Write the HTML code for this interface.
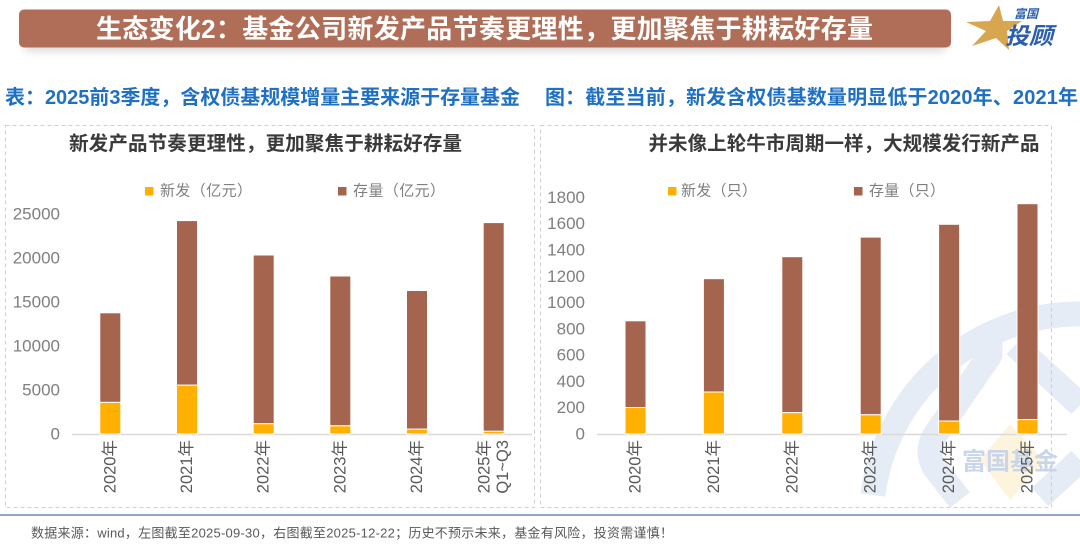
<!DOCTYPE html>
<html><head><meta charset="utf-8"><style>
html,body{margin:0;padding:0;background:#fff;width:1080px;height:558px;overflow:hidden;}
svg{display:block;}
text{font-family:"Liberation Sans","Noto Sans CJK SC",sans-serif;}
</style></head><body>
<svg width="1080" height="558" viewBox="0 0 1080 558" xmlns="http://www.w3.org/2000/svg">
<defs>
<filter id="sh" x="-5%" y="-50%" width="110%" height="200%"><feGaussianBlur stdDeviation="4"/></filter>
</defs>
<!-- Banner -->
<rect x="24" y="18" width="922" height="34" rx="6" fill="#c8c8c8" opacity="0.6" filter="url(#sh)"/>
<rect x="19" y="9.5" width="932" height="38" rx="5" fill="#b06e58"/>
<text x="96" y="29" dominant-baseline="central" font-size="26" font-weight="bold" fill="#fff" textLength="777" lengthAdjust="spacing">生态变化2：基金公司新发产品节奏更理性，更加聚焦于耕耘好存量</text>

<!-- Logo -->
<polygon points="999,5 1003,21 1022,21 1007,31 1009,50 996,38 972,46 986,31 966,22 990,21" fill="#d7a64f"/>
<text x="1026" y="14" dominant-baseline="central" text-anchor="middle" font-size="12" font-weight="bold" fill="#2b5fad" font-style="italic">富国</text>
<text x="1005" y="36" dominant-baseline="central" font-size="23" font-weight="bold" fill="#2b5fad" font-style="italic" textLength="48" lengthAdjust="spacingAndGlyphs">投顾</text>

<!-- Subtitles -->
<text x="5" y="98" dominant-baseline="central" font-size="20" font-weight="bold" fill="#1f70c2" textLength="515" lengthAdjust="spacing">表：2025前3季度，含权债基规模增量主要来源于存量基金</text>
<text x="545" y="98" dominant-baseline="central" font-size="20" font-weight="bold" fill="#1f70c2" textLength="533" lengthAdjust="spacing">图：截至当前，新发含权债基数量明显低于2020年、2021年</text>

<!-- Watermark -->
<polygon points="1010,424 1044,460 1010,500 980,460" fill="#fdf4de"/>
<path d="M 872.8 495 A 208 208 0 0 1 1080 314" fill="none" stroke="#e6ecf5" stroke-width="25"/>
<path d="M 990 330 L 990 355 L 935 435 Q 925 452 935 468 L 960 500" fill="none" stroke="#e6ecf5" stroke-width="25" stroke-linejoin="round"/>
<path d="M 1015 345 L 1080 405" fill="none" stroke="#e6ecf5" stroke-width="25"/>
<path d="M 1040 497 L 1080 460" fill="none" stroke="#e6ecf5" stroke-width="25"/>
<text x="1010" y="462" dominant-baseline="central" text-anchor="middle" font-size="24" font-weight="bold" fill="#c8d5ea" textLength="96" lengthAdjust="spacing">富国基金</text>

<!-- Panels -->
<rect x="5.5" y="125.5" width="529" height="382" fill="none" stroke="#d0d0d0" stroke-dasharray="4,3"/>
<rect x="540.5" y="125.5" width="511" height="382" fill="none" stroke="#d0d0d0" stroke-dasharray="4,3"/>

<!-- Separator line & footer -->
<rect x="0" y="514" width="1080" height="2" fill="#8ea6c8"/>
<text x="31" y="533" dominant-baseline="central" font-size="13" fill="#595959" textLength="642" lengthAdjust="spacing">数据来源：wind，左图截至2025-09-30，右图截至2025-12-22；历史不预示未来，基金有风险，投资需谨慎！</text>

<!-- LEFT CHART -->
<text x="265.5" y="144" dominant-baseline="central" text-anchor="middle" font-size="19.5" font-weight="bold" fill="#3a3a3a" textLength="393" lengthAdjust="spacing">新发产品节奏更理性，更加聚焦于耕耘好存量</text>
<rect x="145" y="187" width="8.5" height="8.5" fill="#ffb000"/>
<text x="160" y="191" dominant-baseline="central" font-size="15" fill="#7f7f7f" textLength="92" lengthAdjust="spacing">新发（亿元）</text>
<rect x="338" y="187" width="8.5" height="8.5" fill="#a5644e"/>
<text x="353" y="191" dominant-baseline="central" font-size="15" fill="#7f7f7f" textLength="92" lengthAdjust="spacing">存量（亿元）</text>

<g font-size="17" fill="#7f7f7f" text-anchor="end">
<text x="60" y="434" dominant-baseline="central">0</text>
<text x="60" y="390" dominant-baseline="central">5000</text>
<text x="60" y="346" dominant-baseline="central">10000</text>
<text x="60" y="302" dominant-baseline="central">15000</text>
<text x="60" y="258" dominant-baseline="central">20000</text>
<text x="60" y="214" dominant-baseline="central">25000</text>
</g>
<line x1="72" y1="434.5" x2="532" y2="434.5" stroke="#d9d9d9" stroke-width="1.5"/>

<g stroke="#fff" stroke-width="1">
<rect x="99.8" y="312.8" width="21" height="89.6" fill="#a5644e"/>
<rect x="99.8" y="402.4" width="21" height="31.6" fill="#ffb000"/>
<rect x="176.5" y="220.6" width="21" height="164.6" fill="#a5644e"/>
<rect x="176.5" y="385.2" width="21" height="48.8" fill="#ffb000"/>
<rect x="253.2" y="255" width="21" height="168.7" fill="#a5644e"/>
<rect x="253.2" y="423.7" width="21" height="10.3" fill="#ffb000"/>
<rect x="329.8" y="276" width="21" height="149.8" fill="#a5644e"/>
<rect x="329.8" y="425.8" width="21" height="8.2" fill="#ffb000"/>
<rect x="406.5" y="290.5" width="21" height="138.7" fill="#a5644e"/>
<rect x="406.5" y="429.2" width="21" height="4.8" fill="#ffb000"/>
<rect x="483.2" y="222.6" width="21" height="208.7" fill="#a5644e"/>
<rect x="483.2" y="431.3" width="21" height="2.7" fill="#ffb000"/>
</g>

<g font-size="16.5" fill="#595959" text-anchor="end">
<text transform="translate(110.3,440) rotate(-90)" dominant-baseline="central">2020年</text>
<text transform="translate(187,440) rotate(-90)" dominant-baseline="central">2021年</text>
<text transform="translate(263.7,440) rotate(-90)" dominant-baseline="central">2022年</text>
<text transform="translate(340.3,440) rotate(-90)" dominant-baseline="central">2023年</text>
<text transform="translate(417,440) rotate(-90)" dominant-baseline="central">2024年</text>
<text transform="translate(484.5,440) rotate(-90)" dominant-baseline="central">2025年</text>
<text transform="translate(503,440) rotate(-90)" dominant-baseline="central">Q1~Q3</text>
</g>

<!-- RIGHT CHART -->
<text x="844" y="144" dominant-baseline="central" text-anchor="middle" font-size="19.5" font-weight="bold" fill="#3a3a3a" textLength="391" lengthAdjust="spacing">并未像上轮牛市周期一样，大规模发行新产品</text>
<rect x="668" y="187" width="8.5" height="8.5" fill="#ffb000"/>
<text x="681" y="191" dominant-baseline="central" font-size="15" fill="#7f7f7f" textLength="76" lengthAdjust="spacing">新发（只）</text>
<rect x="854" y="187" width="8.5" height="8.5" fill="#a5644e"/>
<text x="869" y="191" dominant-baseline="central" font-size="15" fill="#7f7f7f" textLength="76" lengthAdjust="spacing">存量（只）</text>

<g font-size="17" fill="#7f7f7f" text-anchor="end">
<text x="585" y="434" dominant-baseline="central">0</text>
<text x="585" y="407.7" dominant-baseline="central">200</text>
<text x="585" y="381.4" dominant-baseline="central">400</text>
<text x="585" y="355.1" dominant-baseline="central">600</text>
<text x="585" y="328.8" dominant-baseline="central">800</text>
<text x="585" y="302.5" dominant-baseline="central">1000</text>
<text x="585" y="276.3" dominant-baseline="central">1200</text>
<text x="585" y="250" dominant-baseline="central">1400</text>
<text x="585" y="223.7" dominant-baseline="central">1600</text>
<text x="585" y="197.4" dominant-baseline="central">1800</text>
</g>
<line x1="597" y1="434.5" x2="1067" y2="434.5" stroke="#d9d9d9" stroke-width="1.5"/>

<g stroke="#fff" stroke-width="1">
<rect x="625" y="320.8" width="21" height="86.7" fill="#a5644e"/>
<rect x="625" y="407.5" width="21" height="26.5" fill="#ffb000"/>
<rect x="703.4" y="278.7" width="21" height="113.3" fill="#a5644e"/>
<rect x="703.4" y="392" width="21" height="42" fill="#ffb000"/>
<rect x="781.8" y="256.7" width="21" height="156" fill="#a5644e"/>
<rect x="781.8" y="412.7" width="21" height="21.3" fill="#ffb000"/>
<rect x="860.2" y="237.1" width="21" height="177.7" fill="#a5644e"/>
<rect x="860.2" y="414.8" width="21" height="19.2" fill="#ffb000"/>
<rect x="938.6" y="224.3" width="21" height="196.7" fill="#a5644e"/>
<rect x="938.6" y="421" width="21" height="13" fill="#ffb000"/>
<rect x="1017" y="203.7" width="21" height="215.9" fill="#a5644e"/>
<rect x="1017" y="419.6" width="21" height="14.4" fill="#ffb000"/>
</g>

<g font-size="16.5" fill="#595959" text-anchor="end">
<text transform="translate(635.5,440) rotate(-90)" dominant-baseline="central">2020年</text>
<text transform="translate(713.9,440) rotate(-90)" dominant-baseline="central">2021年</text>
<text transform="translate(792.3,440) rotate(-90)" dominant-baseline="central">2022年</text>
<text transform="translate(870.7,440) rotate(-90)" dominant-baseline="central">2023年</text>
<text transform="translate(949.1,440) rotate(-90)" dominant-baseline="central">2024年</text>
<text transform="translate(1027.5,440) rotate(-90)" dominant-baseline="central">2025年</text>
</g>
</svg>
</body></html>
